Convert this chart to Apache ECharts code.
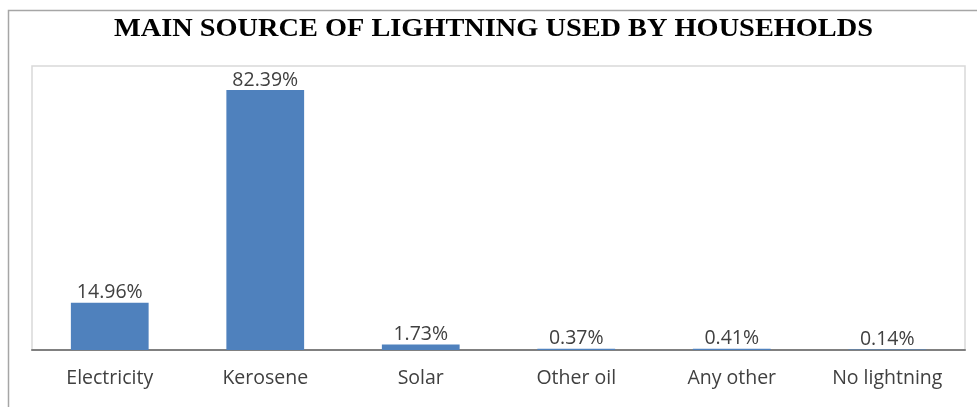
<!DOCTYPE html>
<html>
<head>
<meta charset="utf-8">
<script src="https://cdn.jsdelivr.net/npm/echarts@6/dist/echarts.min.js"></script>
<style>
  html, body { margin: 0; padding: 0; background: #ffffff; }
  #chart { width: 977px; height: 407px; }
</style>
</head>
<body>
<div id="chart"></div>
<script>
// Main source of lighting used by households (share, %)
const categories = ['Electricity', 'Kerosene', 'Solar', 'Other oil', 'Any other', 'No lightning'];
const shares = [14.96, 82.39, 1.73, 0.37, 0.41, 0.14];
const titleText = 'MAIN SOURCE OF LIGHTNING USED BY HOUSEHOLDS';

const labelFont = '"Open Sans", "Noto Sans", sans-serif';

const chart = echarts.init(document.getElementById('chart'), null, { renderer: 'canvas' });

chart.setOption({
  animation: false,
  backgroundColor: '#ffffff',
  graphic: [
    {
      // outer chart frame (top and left edges visible)
      type: 'rect',
      shape: { x: 8.5, y: 10.5, width: 1000, height: 420 },
      style: { fill: 'none', stroke: '#a6a6a6', lineWidth: 1.5 },
      silent: true,
      z: 0
    },
    {
      // slightly widened bold serif heading
      type: 'text',
      x: 493.5,
      y: 29,
      scaleX: 1.09,
      style: {
        text: titleText,
        fontFamily: '"Liberation Serif", "Times New Roman", serif',
        fontWeight: 'bold',
        fontSize: 26,
        fill: '#000000',
        align: 'center',
        verticalAlign: 'middle'
      },
      silent: true,
      z: 10
    }
  ],
  grid: {
    left: 32,
    right: 12,
    top: 66,
    bottom: 57,
    show: true,
    borderColor: '#d9d9d9',
    borderWidth: 1.5,
    containLabel: false
  },
  xAxis: {
    type: 'category',
    data: categories,
    axisLine: { show: true, lineStyle: { color: '#808080', width: 2 } },
    axisTick: { show: false },
    axisLabel: {
      margin: 18,
      fontFamily: labelFont,
      fontSize: 19.5,
      color: '#404040'
    }
  },
  yAxis: {
    type: 'value',
    min: 0,
    max: 90,
    show: false,
    splitLine: { show: false }
  },
  series: [{
    type: 'bar',
    data: shares,
    barWidth: '50%',
    itemStyle: { color: '#4f81bd' },
    label: {
      show: true,
      position: 'top',
      distance: 0,
      formatter: p => p.value.toFixed(2) + '%',
      fontFamily: labelFont,
      fontSize: 19.5,
      color: '#404040'
    }
  }]
});
</script>
</body>
</html>
